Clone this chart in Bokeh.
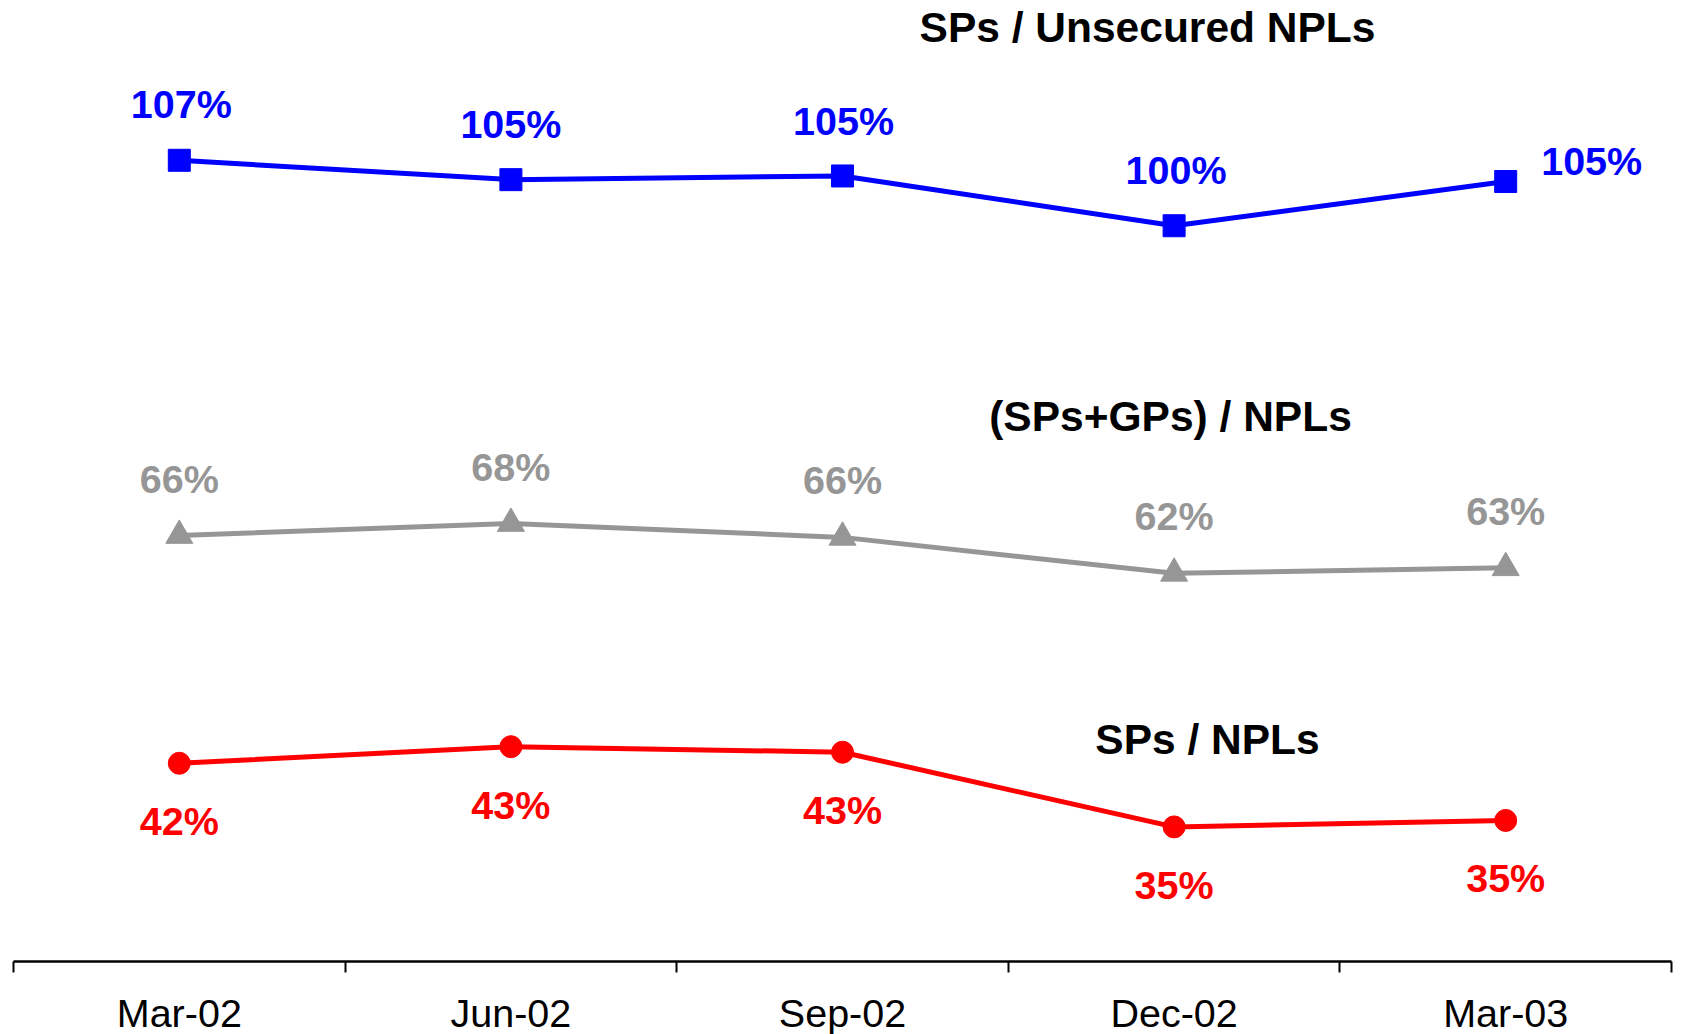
from bokeh.plotting import figure
from bokeh.models import ColumnDataSource, Range1d, LinearAxis, FixedTicker, Label
from bokeh.embed import file_html
from bokeh.resources import INLINE
from bokeh.core.properties import value

# ---------------- data ----------------
categories = ["Mar-02", "Jun-02", "Sep-02", "Dec-02", "Mar-03"]
sp_unsecured = [106.9, 104.8, 105.2, 99.8, 104.6]
sp_gp_npl = [66.2, 67.5, 66.0, 62.1, 62.7]
sp_npl = [41.5, 43.3, 42.7, 34.6, 35.3]
sp_unsecured_labels = ["107%", "105%", "105%", "100%", "105%"]
sp_gp_npl_labels = ["66%", "68%", "66%", "62%", "63%"]
sp_npl_labels = ["42%", "43%", "43%", "35%", "35%"]
series_titles = ["SPs / Unsecured NPLs", "(SPs+GPs) / NPLs", "SPs / NPLs"]
AXIS_MIN, AXIS_MAX = 20, 120

# ---------------- layout ----------------
W, H = 1682, 1034
PX_CAT = 331.6            # pixels per category
LEFT_EDGE = 13            # pixel of first category boundary
AXIS_PX = 961             # pixel row of the category axis
TOP_PX = 39               # pixel row of AXIS_MAX
PPU = (AXIS_PX - TOP_PX) / (AXIS_MAX - AXIS_MIN)

x_start = -0.5 - LEFT_EDGE / PX_CAT
x_end = x_start + W / PX_CAT
y_start = AXIS_MIN - (H - AXIS_PX) / PPU
y_end = AXIS_MIN + AXIS_PX / PPU


def dx(px):
    return x_start + px / PX_CAT


def dy(py):
    return AXIS_MIN + (AXIS_PX - py) / PPU


FONT = "Liberation Sans"
BLUE, GRAY, RED = "#0000FF", "#969696", "#FF0000"

p = figure(width=W, height=H, x_range=Range1d(x_start, x_end),
           y_range=Range1d(y_start, y_end), output_backend="svg",
           toolbar_location=None, x_axis_location=None, y_axis_location=None,
           min_border=0, outline_line_color=None,
           background_fill_color="white", border_fill_color="white")
p.grid.visible = False

idx = list(range(len(categories)))

src_b = ColumnDataSource(dict(x=idx, y=sp_unsecured, t=sp_unsecured_labels,
                              xo=[2, 0, 1, 2, 86], yo=[-56, -56, -55, -56, -20]))
src_g = ColumnDataSource(dict(x=idx, y=sp_gp_npl, t=sp_gp_npl_labels))
src_r = ColumnDataSource(dict(x=idx, y=sp_npl, t=sp_npl_labels))

# lines
p.line("x", "y", source=src_b, line_color=BLUE, line_width=5)
p.line("x", "y", source=src_g, line_color=GRAY, line_width=5)
p.line("x", "y", source=src_r, line_color=RED, line_width=5)

# markers
p.scatter("x", "y", source=src_b, marker="square", size=22,
          fill_color=BLUE, line_color=BLUE)
p.scatter("x", "y", source=src_g, marker="triangle", size=27,
          fill_color=GRAY, line_color=GRAY)
p.scatter("x", "y", source=src_r, marker="circle", size=22,
          fill_color=RED, line_color=RED)

# data labels
common = dict(text_font=value(FONT), text_font_style="bold",
              text_font_size="39.5px", text_align="center",
              text_baseline="middle")
p.text("x", "y", text="t", source=src_b, x_offset="xo", y_offset="yo",
       text_color=BLUE, **common)
p.text("x", "y", text="t", source=src_g, y_offset=-57,
       text_color=GRAY, **common)
p.text("x", "y", text="t", source=src_r, y_offset=58,
       text_color=RED, **common)

# series titles
title_pos = [(1147, 27), (1170, 416), (1207, 739)]
for t, (tx, ty) in zip(series_titles, title_pos):
    p.add_layout(Label(x=dx(tx), y=dy(ty), text=t, text_font=FONT,
                       text_font_style="bold", text_font_size="42.5px",
                       text_color="black", text_align="center",
                       text_baseline="middle"))

# category axis
xaxis = LinearAxis(
    ticker=FixedTicker(ticks=idx, minor_ticks=[i - 0.5 for i in range(len(categories) + 1)]),
    major_label_overrides={i: c for i, c in enumerate(categories)},
    fixed_location=AXIS_MIN, bounds=(-0.5, len(categories) - 0.5),
    axis_line_color="black", axis_line_width=2.5,
    major_tick_in=0, major_tick_out=0,
    minor_tick_in=0, minor_tick_out=11,
    minor_tick_line_color="black", minor_tick_line_width=2,
    major_label_standoff=18,
    major_label_text_font=FONT, major_label_text_font_size="39.5px",
    major_label_text_color="black",
)
p.add_layout(xaxis, "below")

open("out.html", "w").write(file_html(p, INLINE))
